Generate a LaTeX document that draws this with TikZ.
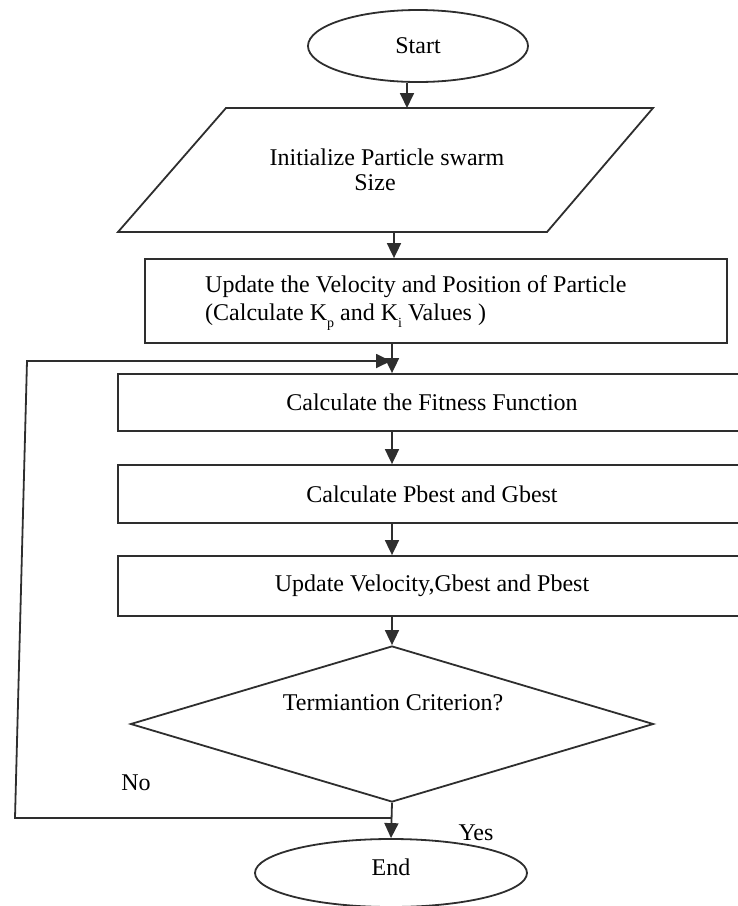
\documentclass[tikz,border=0pt]{standalone}
\usepackage{fontspec}
\setmainfont{Liberation Serif}
\usetikzlibrary{arrows.meta,shapes.geometric}
\newcommand\sbs[1]{\raisebox{-7pt}{\fontsize{14}{14}\selectfont #1}}
\begin{document}
\begin{tikzpicture}[x=1pt,y=-1pt,
  every node/.style={font=\fontsize{24}{28}\selectfont, text=black},
  ln/.style={draw=black!82, line width=1.8pt},
  arr/.style={ln, -{Triangle[width=14pt,length=15pt]}},
  term/.style={ln, ellipse, inner sep=0pt},
  box/.style={ln, rectangle, inner sep=0pt, minimum width=628pt},
  ]
\useasboundingbox (0,0) rectangle (738,906);
\clip (0,0) rectangle (738,906);

% Start
\node[term, minimum width=220pt, minimum height=72pt] (start) at (418,46) {Start};

% Parallelogram
\coordinate (p1) at (226,108);
\coordinate (p2) at (653,108);
\coordinate (p3) at (547,232);
\coordinate (p4) at (118,232);
\draw[ln, line join=miter] (p1) -- (p2) -- (p3) -- (p4) -- cycle;
\node (init1) at (387,157) {Initialize Particle swarm};
\node (init2) at (375,183) {Size};
\coordinate (pin) at (407,108);
\coordinate (pout) at (394,232);

% Update box
\node[ln, rectangle, inner sep=0pt, minimum width=582pt, minimum height=84pt] (upd) at (436,301) {};
\node[anchor=west, align=left, inner sep=0pt] (updtxt) at (205,303)
  {Update the Velocity and Position of Particle\\(Calculate K\sbs{p} and K\sbs{i} Values )};

% Process boxes
\node[box, minimum height=57pt] (fit) at (432,402.5) {Calculate the Fitness Function};
\node[box, minimum height=58pt] (pg) at (432,494) {Calculate Pbest and Gbest};
\node[box, minimum height=60pt] (uv) at (432,586) {Update Velocity,Gbest and Pbest};

% Decision
\node[ln, diamond, inner sep=0pt, minimum width=523pt, minimum height=156pt] (dec) at (392,724) {};
\node (dectxt) at (393,703) {Termiantion Criterion?};

% End
\node[term, minimum width=272pt, minimum height=68pt] (end) at (391,873) {};
\node (endtxt) at (391,867) {End};

% Connectors
\coordinate (ax) at (392,0);
\draw[arr] (start.south -| pin) -- (pin);
\draw[arr] (pout) -- (pout |- upd.north);
\draw[arr] (upd.south -| ax) -- (fit.north -| ax);
\draw[arr] (fit.south -| ax) -- (pg.north -| ax);
\draw[arr] (pg.south -| ax) -- (uv.north -| ax);
\draw[arr] (uv.south -| ax) -- (dec.north);
\draw[arr] (dec.south) -- (end.north);

% Loop back (No)
\coordinate (j) at (392,818);
\coordinate (lb) at (15,818);
\coordinate (lt) at (27,361);
\coordinate (lin) at (391,361);
\draw[arr, line join=miter] (j) -- (lb) -- (lt) -- (lin);

% Labels
\node (no) at (136,783) {No};
\node (yes) at (476,833) {Yes};
\end{tikzpicture}
\end{document}
